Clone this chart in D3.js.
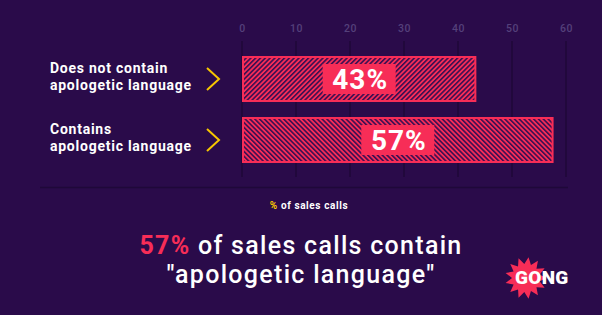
<!DOCTYPE html>
<html>
<head>
<meta charset="utf-8">
<script src="https://cdn.jsdelivr.net/npm/d3@7"></script>
<style>
  html, body { margin: 0; padding: 0; background: #2a0b4a; }
  svg { display: block; }
  text { font-family: Roboto, "DejaVu Sans", sans-serif; }
</style>
</head>
<body>
<div id="chart"></div>
<script>
// data
const categories = ["no", "yes"];
const categoryLines = [["Does not contain", "apologetic language"], ["Contains", "apologetic language"]];
const values = [43.4, 57.7];
const valueLabels = ["43%", "57%"];
const ticks = [0, 10, 20, 30, 40, 50, 60];

const width = 602, height = 315;
const pink = "#f72d57", bg = "#2a0b4a", grid = "#1f0839", yellow = "#f7c600";

const svg = d3.select("#chart").append("svg")
  .attr("width", width)
  .attr("height", height);

svg.append("rect").attr("width", width).attr("height", height).attr("fill", bg);

// hatch patterns, one per bar (opposite directions)
const defs = svg.append("defs");
[45, -45].forEach((angle, i) => {
  const p = defs.append("pattern")
    .attr("id", "hatch" + i)
    .attr("patternUnits", "userSpaceOnUse")
    .attr("width", 3.4)
    .attr("height", 3.4)
    .attr("patternTransform", `rotate(${angle})`);
  p.append("rect").attr("width", 3.4).attr("height", 3.4).attr("fill", pink);
  p.append("rect").attr("width", 1.6).attr("height", 3.4).attr("fill", "#3a0f52");
});

const x = d3.scaleLinear().domain([0, 60]).range([242, 566]);
const y = d3.scaleBand().domain(categories).range([56, 163]).paddingInner(15 / 61);

// grid lines
svg.append("g").selectAll("line")
  .data(ticks)
  .enter().append("line")
  .attr("x1", d => x(d)).attr("x2", d => x(d))
  .attr("y1", 41).attr("y2", 177)
  .attr("stroke", grid)
  .attr("stroke-width", 1.5);

// baseline
svg.append("line")
  .attr("x1", 40).attr("x2", 568)
  .attr("y1", 187.5).attr("y2", 187.5)
  .attr("stroke", grid)
  .attr("stroke-width", 1.5);

// tick labels on top
const axis = svg.append("g")
  .attr("transform", "translate(0,32)")
  .call(d3.axisTop(x).tickValues(ticks).tickSize(0).tickPadding(0));
axis.select(".domain").remove();
axis.selectAll("text")
  .attr("fill", "#54407a")
  .style("font-size", "10.5px")
  .style("font-family", "Roboto, sans-serif")
  .style("font-weight", 500)
  .style("letter-spacing", "0.5px");

// bars
const bars = svg.append("g").selectAll("g")
  .data(categories)
  .enter().append("g");

bars.append("rect")
  .attr("x", x(0) + 1)
  .attr("y", d => y(d) + 1)
  .attr("width", (d, i) => x(values[i]) - x(0) - 2)
  .attr("height", y.bandwidth() - 2)
  .attr("fill", (d, i) => `url(#hatch${i})`)
  .attr("stroke", pink)
  .attr("stroke-width", 2);

// value boxes
bars.append("rect")
  .attr("x", (d, i) => (x(0) + x(values[i])) / 2 - 36.5)
  .attr("y", d => y(d) + y.bandwidth() / 2 - 15)
  .attr("width", 73)
  .attr("height", 30)
  .attr("fill", pink);

bars.append("text")
  .attr("x", (d, i) => (x(0) + x(values[i])) / 2 + 1)
  .attr("y", d => y(d) + y.bandwidth() / 2 + 10)
  .attr("text-anchor", "middle")
  .attr("fill", "#fff")
  .style("font-size", "28px")
  .style("font-weight", 700)
  .style("letter-spacing", "1px")
  .text((d, i) => valueLabels[i]);

// category labels
bars.append("text")
  .attr("x", 50)
  .attr("y", d => y(d) + y.bandwidth() / 2 - 6)
  .attr("fill", "#fff")
  .style("font-size", "14px")
  .style("font-weight", 700)
  .style("letter-spacing", "0.75px")
  .selectAll("tspan")
  .data((d, i) => categoryLines[i])
  .enter().append("tspan")
  .attr("x", 50)
  .attr("dy", (d, j) => j === 0 ? 0 : 17)
  .text(d => d);

// chevrons
bars.append("path")
  .attr("d", d => {
    const cy = y(d) + y.bandwidth() / 2;
    return `M207,${cy - 11} L219,${cy} L207,${cy + 11}`;
  })
  .attr("fill", "none")
  .attr("stroke", yellow)
  .attr("stroke-width", 2);

// axis title
const axTitle = svg.append("text")
  .attr("x", 309)
  .attr("y", 209)
  .attr("text-anchor", "middle")
  .attr("fill", "#fff")
  .style("font-size", "10px")
  .style("font-weight", 700)
  .style("letter-spacing", "0.6px");
axTitle.append("tspan").attr("fill", yellow).text("%");
axTitle.append("tspan").text(" of sales calls");

// headline
const head = svg.append("text")
  .attr("x", 301)
  .attr("y", 254)
  .attr("text-anchor", "middle")
  .attr("fill", "#fff")
  .style("font-size", "25px")
  .style("font-weight", 500)
  .style("letter-spacing", "1.3px");
head.append("tspan").attr("fill", pink).style("font-weight", 700).text("57%");
head.append("tspan").text(" of sales calls contain");
svg.append("text")
  .attr("x", 301)
  .attr("y", 283)
  .attr("text-anchor", "middle")
  .attr("fill", "#fff")
  .style("font-size", "25px")
  .style("font-weight", 500)
  .style("letter-spacing", "1.3px")
  .text("\"apologetic language\"");

// logo burst
const burst = [];
const spikes = 13;
for (let k = 0; k < spikes * 2; k++) {
  const a = (k / (spikes * 2)) * Math.PI * 2;
  const r = k % 2 === 0 ? 21 : 14;
  burst.push([526 + r * Math.cos(a), 278 + r * Math.sin(a)]);
}
svg.append("path")
  .attr("d", d3.line()(burst) + "Z")
  .attr("fill", pink);
svg.append("text")
  .attr("x", 515)
  .attr("y", 284)
  .attr("fill", "#fff")
  .style("font-size", "19px")
  .style("font-weight", 900)
  .style("letter-spacing", "0.3px")
  .text("GONG");
</script>
</body>
</html>
